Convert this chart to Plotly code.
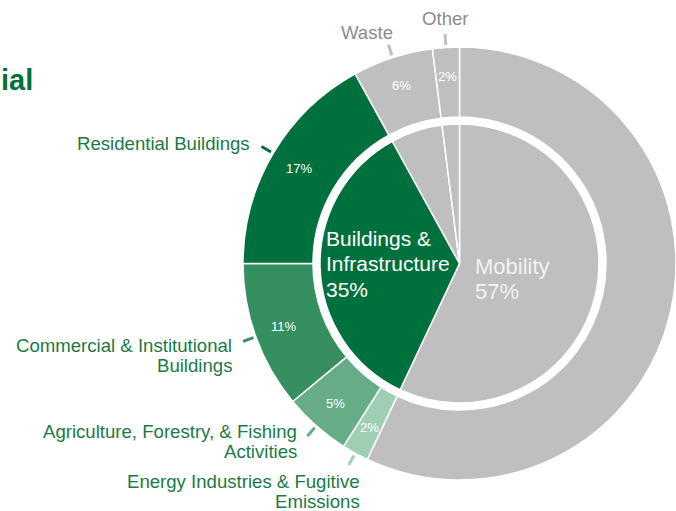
import math
import plotly.graph_objects as go

W, H = 676, 511

# Outer ring: detailed sectors (percent of total emissions)
outer_labels = [
    "Mobility",
    "Energy Industries & Fugitive Emissions",
    "Agriculture, Forestry, & Fishing Activities",
    "Commercial & Institutional Buildings",
    "Residential Buildings",
    "Waste",
    "Other",
]
outer_values = [57, 2, 5, 11, 17, 6, 2]
outer_colors = ["#BFBFBF", "#9FCFB3", "#66AC86", "#368F5E", "#00703C", "#BFBFBF", "#BFBFBF"]

# Inner pie: grouped sectors
inner_labels = ["Mobility", "Buildings & Infrastructure", "Waste", "Other"]
inner_values = [57, 35, 6, 2]
inner_colors = ["#BFBFBF", "#00703C", "#BFBFBF", "#BFBFBF"]

# Geometry (pixels)
CX, CY = 459.5, 263.5
R_OUT = 216.5
R_HOLE = 146.5
R_IN = 139.5


def px(x):
    return x / W


def py(y):
    return 1 - y / H


fig = go.Figure()

fig.add_trace(go.Pie(
    labels=outer_labels,
    values=outer_values,
    sort=False,
    direction="clockwise",
    rotation=0,
    hole=R_HOLE / R_OUT,
    marker=dict(colors=outer_colors, line=dict(color="white", width=1.5)),
    textinfo="none",
    hoverinfo="none",
    showlegend=False,
    domain=dict(x=[px(CX - R_OUT), px(CX + R_OUT)], y=[py(CY + R_OUT), py(CY - R_OUT)]),
))

fig.add_trace(go.Pie(
    labels=inner_labels,
    values=inner_values,
    sort=False,
    direction="clockwise",
    rotation=0,
    marker=dict(colors=inner_colors, line=dict(color="white", width=1.5)),
    textinfo="none",
    hoverinfo="none",
    showlegend=False,
    domain=dict(x=[px(CX - R_IN), px(CX + R_IN)], y=[py(CY + R_IN), py(CY - R_IN)]),
))

FONT = "Liberation Sans, Arial, sans-serif"
GREEN_TXT = "#1A7A45"
GRAY_TXT = "#8C8C8C"

annotations = []
shapes = []


def polar(angle_deg, r):
    a = math.radians(angle_deg)
    return CX + r * math.sin(a), CY - r * math.cos(a)


# Percent labels inside the outer ring and leader ticks outside it
total = sum(outer_values)
cum = 0
for i, v in enumerate(outer_values):
    mid = (cum + v / 2) / total * 360
    cum += v
    if i == 0:
        continue
    x, y = polar(mid, 187)
    annotations.append(dict(
        x=px(x), y=py(y), xref="paper", yref="paper", text=f"{v}%",
        showarrow=False, font=dict(family=FONT, size=13, color="white"),
        xanchor="center", yanchor="middle",
    ))
    x1, y1 = polar(mid, 219)
    x2, y2 = polar(mid, 230)
    shapes.append(dict(
        type="line", xref="paper", yref="paper",
        x0=px(x1), y0=py(y1), x1=px(x2), y1=py(y2),
        line=dict(color=outer_colors[i], width=3),
    ))

# Category names around the ring: (lines, anchor x, first line y, align, colour)
name_layout = {
    "Residential Buildings": (["Residential Buildings"], 252, 143, "right", GREEN_TXT),
    "Commercial & Institutional Buildings": (["Commercial & Institutional", "Buildings"], 234, 345, "right", GREEN_TXT),
    "Agriculture, Forestry, & Fishing Activities": (["Agriculture, Forestry, & Fishing", "Activities"], 299, 431, "right", GREEN_TXT),
    "Energy Industries & Fugitive Emissions": (["Energy Industries & Fugitive", "Emissions"], 362, 481, "right", GREEN_TXT),
    "Waste": (["Waste"], 367, 33, "center", GRAY_TXT),
    "Other": (["Other"], 445.5, 18, "center", GRAY_TXT),
}
LINE_GAP = 20.5
for name in outer_labels:
    if name not in name_layout:
        continue
    lines, ax, ay, align, color = name_layout[name]
    for k, line in enumerate(lines):
        annotations.append(dict(
            x=px(ax), y=py(ay + k * LINE_GAP), xref="paper", yref="paper",
            text=line, showarrow=False,
            font=dict(family=FONT, size=18.6, color=color),
            xanchor=align, yanchor="middle",
        ))

# Labels of the inner pie: (lines, left x, first line y, font size, colour)
center_labels = [
    (["Buildings &", "Infrastructure", f"{inner_values[1]}%"], 324, 238, 21, "white"),
    (["Mobility", f"{inner_values[0]}%"], 473, 266, 22, "#F2F2F2"),
]
for lines, ax, ay, size, color in center_labels:
    for k, line in enumerate(lines):
        annotations.append(dict(
            x=px(ax), y=py(ay + k * 25.5), xref="paper", yref="paper",
            text=line, showarrow=False,
            font=dict(family=FONT, size=size, color=color),
            xanchor="left", yanchor="middle",
        ))

# Heading
annotations.append(dict(
    x=px(-1), y=py(80), xref="paper", yref="paper", text="<b>ial</b>",
    showarrow=False, font=dict(family=FONT, size=29, color="#00703C"),
    xanchor="left", yanchor="middle",
))

fig.update_layout(
    width=W, height=H,
    margin=dict(l=0, r=0, t=0, b=0),
    paper_bgcolor="white",
    plot_bgcolor="white",
    annotations=annotations,
    shapes=shapes,
)

fig.write_html("out.html")
